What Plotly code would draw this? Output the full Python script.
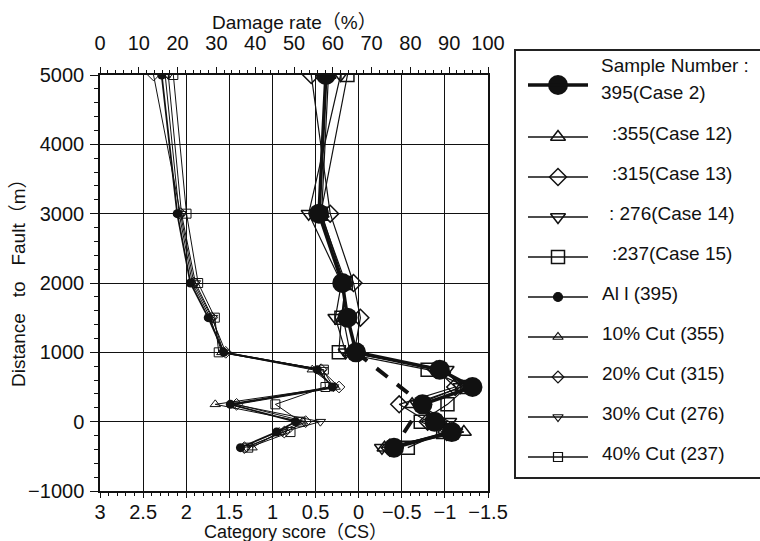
import plotly.graph_objects as go

# Distance to the fault (m) at each sampling band
distance = [5000, 3000, 2000, 1500, 1000, 750, 500, 250, 0, -150, -375]

# Category score (CS) for the sample-number cases
cs_case2 = [0.38, 0.46, 0.19, 0.13, 0.03, -0.94, -1.32, -0.74, -0.88, -1.08, -0.41]
cs_case12 = [0.35, 0.43, 0.17, 0.18, 0.10, -0.98, -1.20, -0.62, -0.95, -1.22, -0.30]
cs_case13 = [0.55, 0.33, 0.06, -0.02, 0.05, -0.90, -1.12, -0.47, -0.80, -1.02, -0.36]
cs_case14 = [0.21, 0.58, 0.20, 0.27, 0.15, -1.02, -1.18, -0.68, -1.05, -1.12, -0.27]
cs_case15 = [0.13, 0.44, 0.15, 0.20, 0.23, -0.80, -1.26, -1.03, -0.72, -0.98, -0.57]

# Damage rate (%) for the full set and the cut sets
dr_all = [15.9, 19.9, 23.3, 27.9, 31.9, 56.0, 59.9, 33.6, 50.4, 45.5, 36.2]
dr_cut10 = [16.8, 20.4, 23.8, 28.4, 31.4, 54.7, 60.6, 29.7, 52.2, 46.2, 39.2]
dr_cut20 = [13.8, 20.8, 24.2, 28.8, 32.4, 57.0, 61.6, 35.2, 53.0, 47.5, 37.2]
dr_cut30 = [17.6, 21.0, 24.6, 29.0, 31.8, 57.4, 60.2, 34.6, 56.8, 47.0, 37.8]
dr_cut40 = [18.9, 22.3, 25.3, 29.6, 30.6, 57.7, 58.1, 45.2, 51.7, 49.1, 38.2]

# Case 2 points joined by the dashed trend
dashed_idx = [4, 7, 10]

legend_labels = [
    ":355(Case 12)", ":315(Case 13)", ": 276(Case 14)", ":237(Case 15)",
    "Al l (395)", "10% Cut (355)", "20% Cut (315)", "30% Cut (276)", "40% Cut (237)",
]

INK = "#111111"
W, H = 760, 541
PX_L, PX_R, PX_T, PX_B = 100, 488, 75, 491
FONT = "Liberation Sans, Arial, Noto Sans CJK JP, sans-serif"
CJK = "Liberation Sans, Noto Sans CJK JP, sans-serif"

fig = go.Figure()

open_styles = [
    ("triangle-up-open", 13), ("diamond-open", 13),
    ("triangle-down-open", 13), ("square-open", 13),
]
small_styles = [
    ("triangle-up-open", 9), ("diamond-open", 9),
    ("triangle-down-open", 9), ("square-open", 9),
]

# Damage-rate curves on the top axis
for vals, (sym, sz) in zip([dr_cut10, dr_cut20, dr_cut30, dr_cut40], small_styles):
    fig.add_trace(go.Scatter(
        x=vals, y=distance, xaxis="x2", yaxis="y", mode="lines+markers",
        line=dict(color=INK, width=1),
        marker=dict(symbol=sym, size=sz, color=INK, line=dict(color=INK, width=1)),
        showlegend=False,
    ))
fig.add_trace(go.Scatter(
    x=dr_all, y=distance, xaxis="x2", yaxis="y", mode="lines+markers",
    line=dict(color=INK, width=1.8),
    marker=dict(symbol="circle", size=9, color=INK),
    showlegend=False,
))

# Category-score curves on the bottom axis
for vals, (sym, sz) in zip([cs_case12, cs_case13, cs_case14, cs_case15], open_styles):
    fig.add_trace(go.Scatter(
        x=vals, y=distance, xaxis="x", yaxis="y", mode="lines+markers",
        line=dict(color=INK, width=1.2),
        marker=dict(symbol=sym, size=sz, color=INK, line=dict(color=INK, width=1.5)),
        showlegend=False,
    ))
fig.add_trace(go.Scatter(
    x=[cs_case2[i] for i in dashed_idx], y=[distance[i] for i in dashed_idx],
    xaxis="x", yaxis="y", mode="lines",
    line=dict(color=INK, width=4, dash="14px,12px"),
    showlegend=False,
))
fig.add_trace(go.Scatter(
    x=cs_case2, y=distance, xaxis="x", yaxis="y", mode="lines+markers",
    line=dict(color=INK, width=3.5),
    marker=dict(symbol="circle", size=20, color=INK),
    showlegend=False,
))

# Legend panel drawn on a pixel-space overlay axis
row_y = [137 + 40 * k for k in range(9)]
text_x = [610, 610, 607, 610, 600, 600, 600, 600, 600]
all_styles = open_styles + [("circle", 9)] + small_styles
line_x0, line_x1, mark_x = 528, 588, 558

shapes = [dict(type="line", xref="x3", yref="y3", x0=line_x0, x1=line_x1,
               y0=85, y1=85, line=dict(color=INK, width=3.5))]
for yy in row_y:
    shapes.append(dict(type="line", xref="x3", yref="y3", x0=line_x0, x1=line_x1,
                       y0=yy, y1=yy, line=dict(color=INK, width=1.5)))
shapes.append(dict(type="rect", xref="x3", yref="y3", x0=515, x1=790, y0=50, y1=478,
                   line=dict(color="#222222", width=2), fillcolor="rgba(0,0,0,0)",
                   layer="below"))

fig.add_trace(go.Scatter(
    x=[mark_x], y=[85], xaxis="x3", yaxis="y3", mode="markers",
    marker=dict(symbol="circle", size=20, color=INK), showlegend=False,
))
for yy, (sym, sz) in zip(row_y, all_styles):
    fig.add_trace(go.Scatter(
        x=[mark_x], y=[yy], xaxis="x3", yaxis="y3", mode="markers",
        marker=dict(symbol=sym, size=sz, color=INK,
                    line=dict(color=INK, width=1.5 if sz > 10 else 1.2)),
        showlegend=False,
    ))

annotations = [
    dict(text="Sample Number :", x=599, y=65, xref="x3", yref="y3",
         xanchor="left", yanchor="middle", showarrow=False,
         font=dict(family=FONT, size=19, color=INK)),
    dict(text="395(Case 2)", x=599, y=92, xref="x3", yref="y3",
         xanchor="left", yanchor="middle", showarrow=False,
         font=dict(family=FONT, size=19, color=INK)),
]
for lab, yy, tx in zip(legend_labels, row_y, text_x):
    annotations.append(dict(text=lab, x=tx, y=yy - 4, xref="x3", yref="y3",
                            xanchor="left", yanchor="middle", showarrow=False,
                            font=dict(family=FONT, size=19, color=INK)))

# Axis titles
annotations += [
    dict(text="Damage rate（%）", x=294, y=22, xref="x3", yref="y3",
         showarrow=False, xanchor="center", yanchor="middle",
         font=dict(family=CJK, size=19, color=INK)),
    dict(text="Category score（CS）", x=295, y=532, xref="x3", yref="y3",
         showarrow=False, xanchor="center", yanchor="middle",
         font=dict(family=CJK, size=18, color=INK)),
    dict(text="Distance   to   Fault（m）", x=18, y=278, xref="x3", yref="y3",
         showarrow=False, textangle=-90, xanchor="center", yanchor="middle",
         font=dict(family=CJK, size=19, color=INK)),
]

tickfont = dict(family=FONT, size=20, color=INK)
xdom = [PX_L / W, PX_R / W]
ydom = [(H - PX_B) / H, (H - PX_T) / H]

fig.update_layout(
    width=W, height=H,
    margin=dict(l=0, r=0, t=0, b=0, pad=0, autoexpand=False),
    paper_bgcolor="white", plot_bgcolor="rgba(0,0,0,0)",
    showlegend=False,
    xaxis=dict(
        domain=xdom, range=[3, -1.5], anchor="y", automargin=False,
        tick0=0, dtick=0.5, ticks="outside", ticklen=5, tickwidth=1.2, tickcolor=INK,
        minor=dict(dtick=0.1, ticks="outside", ticklen=3, tickcolor=INK, showgrid=False),
        showgrid=True, gridcolor=INK, gridwidth=1,
        showline=True, linecolor=INK, linewidth=1.5,
        zeroline=False, tickfont=tickfont, ticklabelstandoff=-3,
    ),
    xaxis2=dict(
        domain=xdom, range=[0, 100], overlaying="x", side="top", anchor="y",
        automargin=False,
        tick0=0, dtick=10, ticks="outside", ticklen=6, tickwidth=1.2, tickcolor=INK,
        minor=dict(dtick=2, ticks="outside", ticklen=3, tickcolor=INK, showgrid=False),
        showgrid=False, showline=True, linecolor=INK, linewidth=1.5,
        zeroline=False, tickfont=tickfont, ticklabelstandoff=9,
    ),
    yaxis=dict(
        domain=ydom, range=[-1000, 5000], anchor="x", automargin=False,
        tick0=0, dtick=1000, ticks="outside", ticklen=8, tickwidth=1.2, tickcolor=INK,
        minor=dict(dtick=200, ticks="outside", ticklen=4, tickcolor=INK, showgrid=False),
        showgrid=True, gridcolor=INK, gridwidth=1,
        showline=True, linecolor=INK, linewidth=1.5, mirror=True,
        zeroline=False, tickfont=tickfont, ticklabelstandoff=2,
    ),
    xaxis3=dict(domain=[0, 1], range=[0, W], visible=False, fixedrange=True,
                anchor="y3", automargin=False),
    yaxis3=dict(domain=[0, 1], range=[H, 0], visible=False, fixedrange=True,
                anchor="x3", automargin=False),
    shapes=shapes,
    annotations=annotations,
)

fig.write_html("out.html")
